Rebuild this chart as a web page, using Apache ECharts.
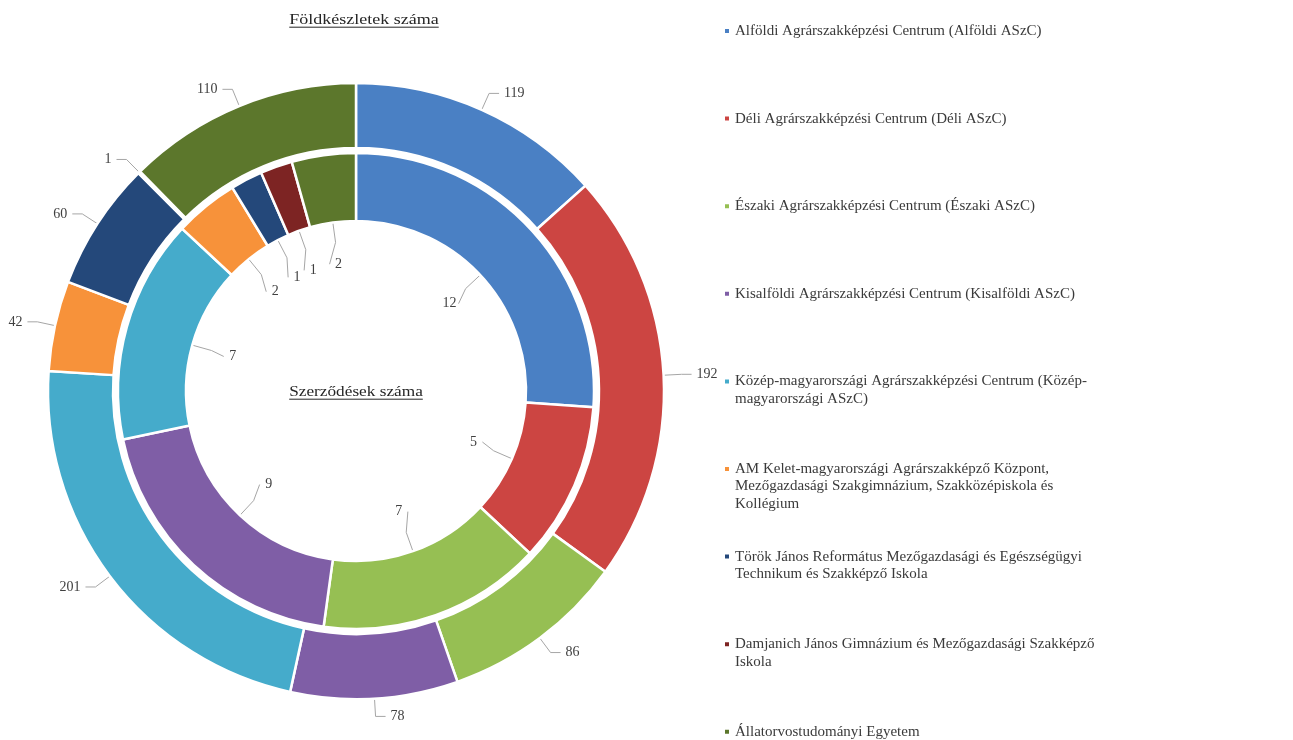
<!DOCTYPE html>
<html>
<head>
<meta charset="utf-8">
<script src="https://cdn.jsdelivr.net/npm/echarts@6/dist/echarts.min.js"></script>
<style>
html,body{margin:0;padding:0;background:#fff;}
#main{width:1293px;height:740px;}
</style>
</head>
<body>
<div id="main"></div>
<script>
// ---------------- data ----------------
const categories = [
  'Alföldi Agrárszakképzési Centrum (Alföldi ASzC)',
  'Déli Agrárszakképzési Centrum (Déli ASzC)',
  'Északi Agrárszakképzési Centrum (Északi ASzC)',
  'Kisalföldi Agrárszakképzési Centrum (Kisalföldi ASzC)',
  'Közép-magyarországi Agrárszakképzési Centrum (Közép-magyarországi ASzC)',
  'AM Kelet-magyarországi Agrárszakképző Központ, Mezőgazdasági Szakgimnázium, Szakközépiskola és Kollégium',
  'Török János Református Mezőgazdasági és Egészségügyi Technikum és Szakképző Iskola',
  'Damjanich János Gimnázium és Mezőgazdasági Szakképző Iskola',
  'Állatorvostudományi Egyetem'
];
const legendLabels = [
  'Alföldi Agrárszakképzési Centrum (Alföldi ASzC)',
  'Déli Agrárszakképzési Centrum (Déli ASzC)',
  'Északi Agrárszakképzési Centrum (Északi ASzC)',
  'Kisalföldi Agrárszakképzési Centrum (Kisalföldi ASzC)',
  'Közép-magyarországi Agrárszakképzési Centrum (Közép-\nmagyarországi ASzC)',
  'AM Kelet-magyarországi Agrárszakképző Központ,\nMezőgazdasági Szakgimnázium, Szakközépiskola és\nKollégium',
  'Török János Református Mezőgazdasági és Egészségügyi\nTechnikum és Szakképző Iskola',
  'Damjanich János Gimnázium és Mezőgazdasági Szakképző\nIskola',
  'Állatorvostudományi Egyetem'
];
const landCounts = [119, 192, 86, 78, 201, 42, 60, 1, 110];      // outer ring: Földkészletek száma
const contractCounts = [12, 5, 7, 9, 7, 2, 1, 1, 2];             // inner ring: Szerződések száma
const outerTitle = 'Földkészletek száma';
const innerTitle = 'Szerződések száma';

// ---------------- style / layout ----------------
const colors = ['#4a80c4', '#cc4542', '#96bf53', '#7f5ea6', '#45abcb', '#f7923a', '#24487a', '#7d2423', '#5c772c'];
const CX = 356, CY = 391;
const serif = "'Liberation Serif', 'Times New Roman', serif";
const labelColor = '#404040';
const lineColor = '#a6a6a6';

const chart = echarts.init(document.getElementById('main'), null, {renderer: 'canvas'});

function dirFrom(pt) {
  const dx = pt[0] - CX, dy = pt[1] - CY;
  const d = Math.sqrt(dx * dx + dy * dy) || 1;
  return [dx / d, dy / d];
}

// outer ring: keep ECharts label placement, start leader line inside the slice
function outerLayout(params) {
  const pts = params.labelLinePoints;
  if (!pts || pts.length < 3) return {};
  const n = dirFrom(pts[0]);
  return {
    labelLinePoints: [[CX + n[0] * 280, CY + n[1] * 280], pts[1], pts[2]]
  };
}

// inner ring: labels sit in the hole, leader line from slice middle
function innerLayout(params) {
  const pts = params.labelLinePoints;
  if (!pts || pts.length < 1) return {};
  const n = dirFrom(pts[0]);
  const lx = CX + n[0] * 128, ly = CY + n[1] * 128;
  const side = n[0] >= 0 ? 1 : -1;
  return {
    x: lx, y: ly, align: 'center', verticalAlign: 'middle',
    labelLinePoints: [
      [CX + n[0] * 205, CY + n[1] * 205],
      [CX + n[0] * 150, CY + n[1] * 150],
      [lx + side * 9, ly]
    ]
  };
}

// legends: one component per item, evenly spaced like the original
const LH = 17.5;
const legends = categories.map(function (name, i) {
  const lines = legendLabels[i].split('\n').length;
  const firstLineY = 31 + 87.6 * i;
  return {
    data: [name],
    orient: 'vertical',
    left: 723,
    top: firstLineY - (lines - 1) * LH - LH / 2,
    padding: 0,
    itemWidth: 6,
    itemHeight: 6,
    icon: 'rect',
    selectedMode: false,
    formatter: function () {
      return '\n'.repeat(lines - 1) + legendLabels[i];
    },
    textStyle: {fontFamily: serif, fontSize: 15, color: '#3a3a3a', lineHeight: LH}
  };
});

// titles with underline
function measure(text, font) {
  const c = document.createElement('canvas').getContext('2d');
  c.font = font;
  return c.measureText(text).width;
}
function underlinedTitle(text, x, y, fs, sx) {
  const font = fs + 'px ' + serif;
  const w = measure(text, font) * sx;
  return [
    {type: 'text', x: x, y: y, scaleX: sx, z: 10,
      style: {text: text, font: font, fill: '#262626', align: 'center', verticalAlign: 'middle'}},
    {type: 'line', z: 10,
      shape: {x1: x - w / 2, y1: y + fs * 0.48, x2: x + w / 2, y2: y + fs * 0.48},
      style: {stroke: '#262626', lineWidth: 1}}
  ];
}

const option = {
  backgroundColor: '#ffffff',
  color: colors,
  animation: false,
  legend: legends,
  graphic: underlinedTitle(outerTitle, 364, 20, 15, 1.2).concat(underlinedTitle(innerTitle, 356, 392, 15, 1.15)),
  series: [
    {
      name: outerTitle,
      type: 'pie',
      center: [CX, CY],
      radius: [243, 308],
      startAngle: 90,
      clockwise: true,
      avoidLabelOverlap: true,
      emphasis: {disabled: true},
      itemStyle: {borderColor: '#ffffff', borderWidth: 2.5},
      label: {show: true, position: 'outside', formatter: '{c}', color: labelColor, fontFamily: serif, fontSize: 14,
        overflow: 'none', bleedMargin: 0},
      labelLine: {show: true, length: 18, length2: 10, lineStyle: {color: lineColor, width: 1}},
      labelLayout: outerLayout,
      data: categories.map(function (n, i) { return {name: n, value: landCounts[i]}; })
    },
    {
      name: innerTitle,
      type: 'pie',
      center: [CX, CY],
      radius: [170, 238],
      startAngle: 90,
      clockwise: true,
      avoidLabelOverlap: false,
      emphasis: {disabled: true},
      itemStyle: {borderColor: '#ffffff', borderWidth: 2.5},
      label: {show: true, position: 'outside', formatter: '{c}', color: labelColor, fontFamily: serif, fontSize: 14},
      labelLine: {show: true, length: 10, length2: 10, lineStyle: {color: lineColor, width: 1}},
      labelLayout: innerLayout,
      data: categories.map(function (n, i) { return {name: n, value: contractCounts[i]}; })
    }
  ]
};
chart.setOption(option);
</script>
</body>
</html>
